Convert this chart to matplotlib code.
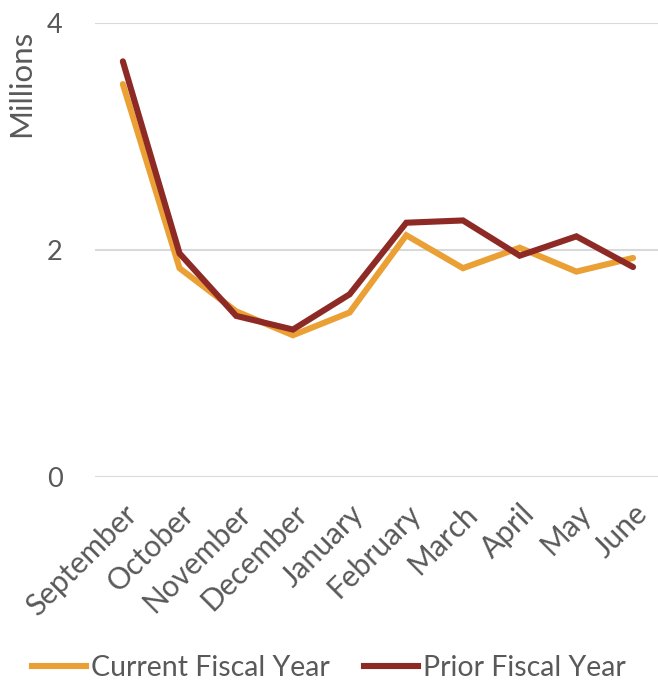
import matplotlib
matplotlib.use("Agg")
import matplotlib.pyplot as plt
from matplotlib.lines import Line2D

months = ["September", "October", "November", "December", "January",
          "February", "March", "April", "May", "June"]
current_fy = [3.46, 1.84, 1.46, 1.25, 1.45, 2.13, 1.84, 2.02, 1.81, 1.93]
prior_fy = [3.66, 1.97, 1.42, 1.30, 1.61, 2.24, 2.26, 1.95, 2.12, 1.85]
yticks = [0, 2, 4]

ORANGE = "#EBA035"
DARKRED = "#8E2A25"
GREY = "#595959"

plt.rcParams["font.family"] = ["Lato", "DejaVu Sans"]

W, H = 658, 686
fig = plt.figure(figsize=(W / 100, H / 100), dpi=100)
# axes box in pixel terms: left 94.5, right 658, top 22.7, bottom 477.3
ax = fig.add_axes([94.5 / W, 1 - 477.3 / H, (658 - 94.5) / W, (477.3 - 22.7) / H])

xs = list(range(len(months)))
ax.plot(xs, current_fy, color=ORANGE, lw=4.4, solid_capstyle="round",
        solid_joinstyle="miter", zorder=3)
ax.plot(xs, prior_fy, color=DARKRED, lw=4.4, solid_capstyle="round",
        solid_joinstyle="miter", zorder=4)

ax.set_xlim(-0.5, 9.44)
ax.set_ylim(0, 4)
ax.set_yticks(yticks)
ax.set_yticklabels([str(t) for t in yticks], fontsize=19.5, color=GREY)
ax.yaxis.grid(True, color="#D9D9D9", lw=1.5)
ax.set_axisbelow(True)
ax.set_xticks(xs)
ax.set_xticklabels(months, rotation=45, ha="right", va="top",
                   rotation_mode="anchor", fontsize=21.5, color=GREY)
ax.tick_params(axis="both", length=0)
ax.tick_params(axis="y", pad=23)
ax.tick_params(axis="x", pad=16)
for s in ax.spines.values():
    s.set_visible(False)

fig.text(21 / W, 1 - 30 / H, "Millions", rotation=90, ha="center", va="top",
         fontsize=22.5, color=GREY)

handles = [
    Line2D([], [], color=ORANGE, lw=4.4, label="Current Fiscal Year"),
    Line2D([], [], color=DARKRED, lw=4.4, label="Prior Fiscal Year"),
]
leg = fig.legend(handles=handles, loc="center", bbox_to_anchor=(0.5, 1 - 668 / H),
                 ncol=2, frameon=False, fontsize=20.5, handlelength=1.9,
                 handletextpad=0.17, columnspacing=1.2, labelcolor=GREY)

fig.savefig("out.png", dpi=100)
